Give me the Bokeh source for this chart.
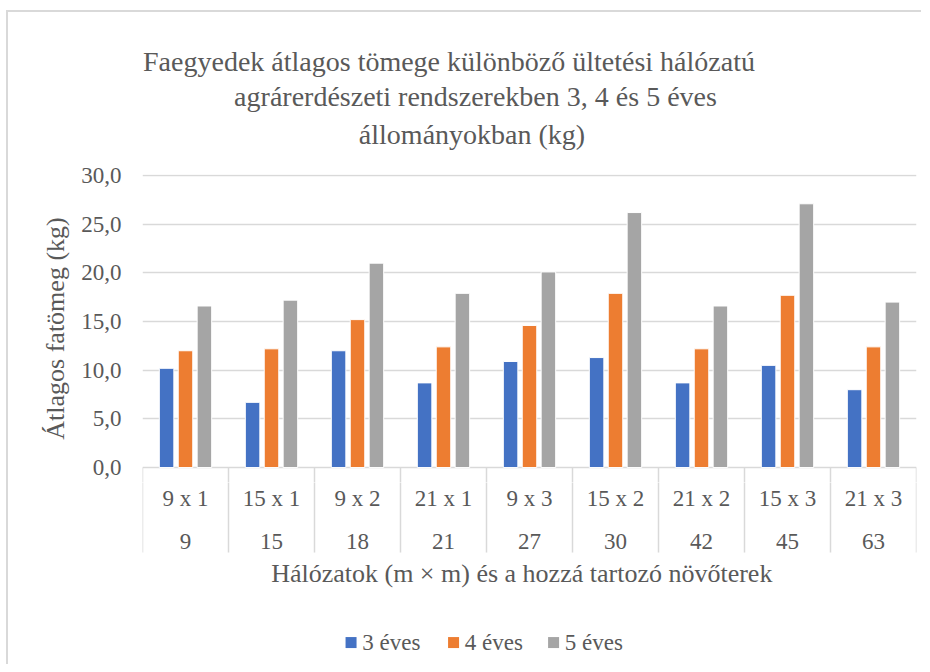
import numpy as np
from bokeh.plotting import figure
from bokeh.layouts import column
from bokeh.models import ColumnDataSource, FixedTicker, CustomJSTickFormatter, Range1d
from bokeh.core.properties import value
from bokeh.embed import file_html
from bokeh.resources import INLINE

# ---------------- data ----------------
spacing = ["9 x 1", "15 x 1", "9 x 2", "21 x 1", "9 x 3", "15 x 2", "21 x 2", "15 x 3", "21 x 3"]
area = ["9", "15", "18", "21", "27", "30", "42", "45", "63"]
series_names = ["3 éves", "4 éves", "5 éves"]
y3 = [10.2, 6.7, 12.0, 8.7, 10.9, 11.3, 8.7, 10.5, 8.0]
y4 = [12.0, 12.2, 15.2, 12.4, 14.6, 17.9, 12.2, 17.7, 12.4]
y5 = [16.6, 17.2, 21.0, 17.9, 20.1, 26.2, 16.6, 27.1, 17.0]
y_ticks = [0, 5, 10, 15, 20, 25, 30]
title_lines = ["Faegyedek átlagos tömege különböző  ültetési hálózatú",
               "agrárerdészeti rendszerekben 3, 4 és 5 éves",
               "állományokban  (kg)"]
y_label = "Átlagos fatömeg (kg)"
x_label = "Hálózatok (m × m) és a hozzá tartozó növőterek"

# ---------------- style ----------------
colors = ["#4472C4", "#ED7D31", "#A5A5A5"]
FONT = "Liberation Serif"
TXT = "#595959"
GRID = "#D9D9D9"
W = 922
LEFT, RIGHT = 142, 6

n = len(spacing)
centers = np.arange(n) + 0.5
offsets = [-0.22, 0.0, 0.22]
bar_w = 0.169
bounds = np.arange(n + 1)

# ---------- title panel (frame aligned with the plot below) ----------
pt = figure(width=W, height=150, output_backend="svg", toolbar_location=None,
            x_range=Range1d(LEFT, W - RIGHT), y_range=Range1d(150, 0),
            x_axis_location=None, y_axis_location=None,
            min_border_left=LEFT, min_border_right=RIGHT, min_border_top=0, min_border_bottom=0)
pt.outline_line_color = None
pt.background_fill_color = None
pt.border_fill_color = None
pt.grid.visible = False
pt.text(x=[452, 475, 475], y=[61, 96, 134], text=title_lines, text_font=value(FONT),
        text_font_size="28px", text_color=TXT, text_align="center", text_baseline="alphabetic")

# ---------- main plot ----------
p = figure(width=W, height=332, output_backend="svg", toolbar_location=None,
           x_range=Range1d(0, n), y_range=Range1d(-1.535, 30.11),
           x_axis_location=None, min_border_left=LEFT, min_border_right=RIGHT,
           min_border_top=24, min_border_bottom=0)
p.outline_line_color = None
p.border_fill_color = None
p.xgrid.visible = False

yax = p.yaxis[0]
yax.ticker = FixedTicker(ticks=y_ticks)
yax.formatter = CustomJSTickFormatter(code="return tick.toFixed(1).replace('.', ',');")
yax.axis_line_color = None
yax.major_tick_line_color = None
yax.minor_tick_line_color = None
yax.major_tick_in = 0
yax.major_tick_out = 0
yax.major_label_standoff = 21
yax.major_label_text_font = FONT
yax.major_label_text_font_size = "23px"
yax.major_label_text_color = TXT
yax.axis_label = y_label
yax.axis_label_text_font = FONT
yax.axis_label_text_font_size = "26px"
yax.axis_label_text_font_style = "normal"
yax.axis_label_text_color = TXT
yax.axis_label_standoff = 8

p.ygrid.ticker = FixedTicker(ticks=y_ticks)
p.ygrid.grid_line_color = GRID
p.ygrid.grid_line_width = 1.5

for vals, off, col in zip([y3, y4, y5], offsets, colors):
    src = ColumnDataSource(dict(x=centers + off, top=vals))
    p.vbar(x="x", top="top", bottom=0, width=bar_w, source=src,
           fill_color=col, line_color="white", line_width=1)

# top part of the category separators
p.segment(x0=bounds, y0=np.zeros(n + 1), x1=bounds, y1=np.full(n + 1, -8.73),
          line_color=GRID, line_width=1.5)

# ---------- category table, axis title, legend ----------
pb = figure(width=W, height=182, output_backend="svg", toolbar_location=None,
            x_range=p.x_range, y_range=Range1d(-20.234, -1.535),
            x_axis_location=None, y_axis_location=None,
            min_border_left=LEFT, min_border_right=RIGHT, min_border_top=0, min_border_bottom=0)
pb.outline_line_color = None
pb.border_fill_color = None
pb.grid.visible = False

pb.segment(x0=bounds, y0=np.zeros(n + 1), x1=bounds, y1=np.full(n + 1, -8.73),
           line_color=GRID, line_width=1.5)
pb.text(x=centers, y=np.full(n, -3.13), text=spacing, text_font=value(FONT),
        text_font_size="23px", text_color=TXT, text_align="center", text_baseline="middle")
pb.text(x=centers, y=np.full(n, -7.58), text=area, text_font=value(FONT),
        text_font_size="23px", text_color=TXT, text_align="center", text_baseline="middle")
pb.text(x=[4.41], y=[-10.9], text=[x_label], text_font=value(FONT),
        text_font_size="26px", text_color=TXT, text_align="center", text_baseline="middle")

leg_x = np.array([2.425, 3.617, 4.78])
pb.scatter(x=leg_x, y=np.full(3, -17.98), marker="square", size=11,
           fill_color=colors, line_color=None)
pb.text(x=leg_x + 0.13, y=np.full(3, -17.98), text=series_names, text_font=value(FONT),
        text_font_size="23px", text_color=TXT, text_align="left", text_baseline="middle")

# chart-area border (left and top edges only, as in the reference)
border_css = {
    "background-color": "white",
    "background-image": "linear-gradient(#D9D9D9, #D9D9D9), linear-gradient(#D9D9D9, #D9D9D9)",
    "background-size": "2px 660px, 915px 2px",
    "background-position": "6px 10px, 6px 10px",
    "background-repeat": "no-repeat, no-repeat",
}
layout = column(pt, p, pb, spacing=0, styles=border_css)
open("out.html", "w").write(file_html(layout, INLINE))
